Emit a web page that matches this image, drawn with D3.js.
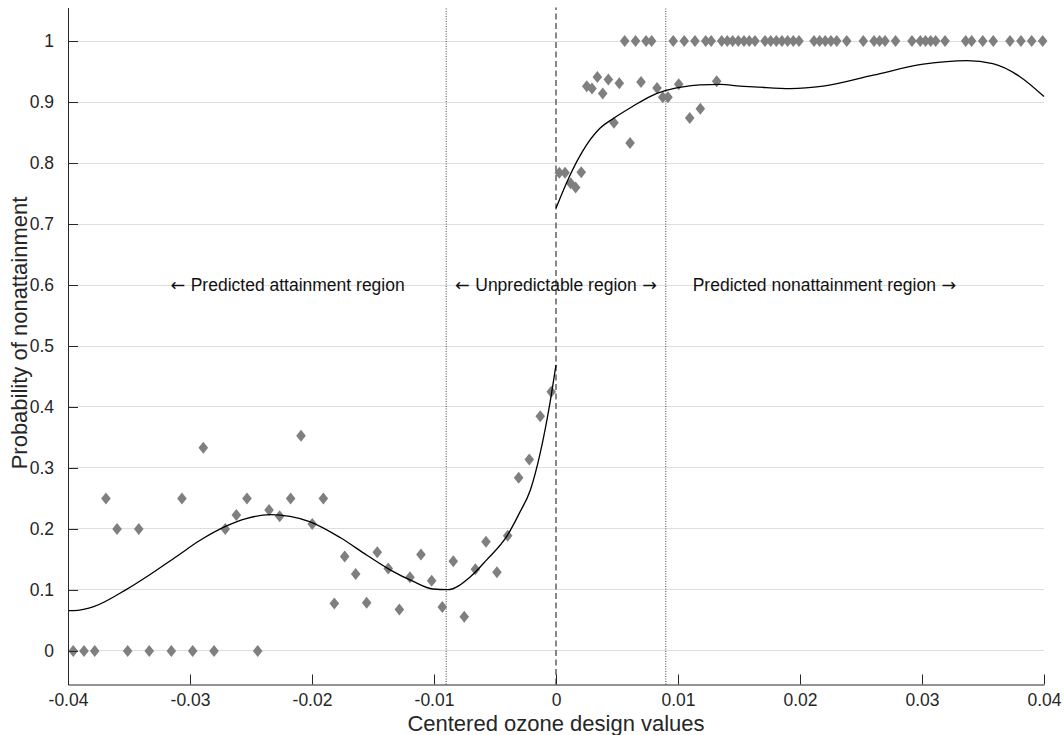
<!DOCTYPE html>
<html><head><meta charset="utf-8">
<script src="https://cdn.jsdelivr.net/npm/d3@7"></script>
<style>body{margin:0;background:#fff}svg{display:block}</style>
</head><body><svg id="c" width="1064" height="735"></svg>
<script>
// Scatter: left side (x < 0)
const leftX = [-0.03957,-0.03869,-0.03781,-0.03511,-0.03334,-0.03153,-0.02978,-0.02803,-0.02445,
  -0.03689,-0.03598,-0.03420,-0.03066,-0.02891,-0.02711,-0.02620,-0.02533,-0.02352,-0.02265,-0.02175,
  -0.02090,-0.01998,-0.01907,-0.01817,-0.01732,-0.01642,-0.01552,-0.01465,-0.01375,-0.01284,-0.01197,
  -0.01107,-0.01019,-0.00932,-0.00842,-0.00752,-0.00661,-0.00574,-0.00484,-0.00396,-0.00306,-0.00219,
  -0.00129,-0.00039];
const leftY = [0,0,0,0,0,0,0,0,0,
  0.25,0.2,0.2,0.25,0.333,0.2,0.223,0.25,0.231,0.221,0.25,
  0.353,0.208,0.25,0.078,0.155,0.126,0.079,0.162,0.135,0.068,0.121,
  0.158,0.115,0.072,0.147,0.056,0.134,0.179,0.129,0.189,0.284,0.314,
  0.385,0.425];
// Scatter: right side (x > 0), below 1
const rightX = [0.00027,0.00074,0.00120,0.00161,0.00207,0.00252,0.00295,0.00339,0.00383,0.00429,
  0.00475,0.00519,0.00607,0.00697,0.00828,0.00875,0.00918,0.01006,0.01096,0.01183,0.01317];
const rightY = [0.784,0.784,0.767,0.760,0.785,0.926,0.922,0.941,0.914,0.937,
  0.866,0.931,0.833,0.933,0.923,0.908,0.908,0.929,0.874,0.889,0.934];
// Scatter: right side, probability = 1
const oneX = [0.00563,0.00652,0.00738,0.00784,0.00961,0.01051,0.01139,0.01227,0.01272,0.01358,
  0.01404,0.01448,0.01494,0.01541,0.01584,0.01631,0.01713,0.01760,0.01806,0.01852,0.01899,0.01945,
  0.01992,0.02115,0.02161,0.02207,0.02254,0.02301,0.02383,0.02519,0.02607,0.02652,0.02697,0.02783,
  0.02918,0.02986,0.03029,0.03071,0.03112,0.03189,0.03358,0.03407,0.03498,0.03584,0.03721,0.03811,
  0.03899,0.03989];
// Fitted curves
const fitLeftX = [-0.04,-0.0392,-0.0379,-0.0352,-0.0333,-0.0311,-0.0292,-0.0270,-0.0254,-0.0234,
  -0.0218,-0.0202,-0.0177,-0.0155,-0.0136,-0.0117,-0.0101,-0.0089,-0.0070,-0.0057,-0.0040,-0.0030,
  -0.0021,-0.0013,-0.0005,0];
const fitLeftY = [0.066,0.0665,0.0725,0.101,0.125,0.155,0.181,0.205,0.217,0.2234,
  0.2208,0.212,0.186,0.157,0.133,0.114,0.1016,0.1005,0.122,0.149,0.189,0.226,
  0.264,0.324,0.406,0.469];
const fitRightX = [0,0.0011,0.0022,0.0036,0.0047,0.0063,0.0077,0.0090,0.0104,0.0118,0.0135,0.0151,
  0.0162,0.0192,0.0219,0.0260,0.0301,0.0337,0.0358,0.0380,0.04];
const fitRightY = [0.726,0.778,0.820,0.857,0.873,0.893,0.909,0.919,0.925,0.928,0.929,0.926,
  0.925,0.922,0.926,0.944,0.962,0.968,0.963,0.942,0.909];
const xTicks = [-0.04,-0.03,-0.02,-0.01,0,0.01,0.02,0.03,0.04];
const yTicks = [0,0.1,0.2,0.3,0.4,0.5,0.6,0.7,0.8,0.9,1];
const refDotted = [-0.009, 0.009];
const refDashed = [0];
const regionText = ["Predicted attainment region", "Unpredictable region", "Predicted nonattainment region"];
const regionLeftArrow = [true, true, false];
const regionRightArrow = [false, true, true];
const regionX = [-0.022, 0, 0.022];
const regionY = 0.6;
const xLabel = "Centered ozone design values";
const yLabel = "Probability of nonattainment";

const svg = d3.select("#c");
const font = "'Liberation Sans', Arial, Helvetica, sans-serif";
const arrowFont = "'DejaVu Sans', sans-serif";
const axisColor = "#262626";
const x = d3.scaleLinear().domain([-0.04, 0.04]).range([68, 1044]);
const y = d3.scaleLinear().domain([-0.055, 1.055]).range([684.5, 7.5]);

// grid
svg.append("g").selectAll("line").data(yTicks).join("line")
  .attr("x1", x(-0.04)).attr("x2", x(0.04))
  .attr("y1", d => y(d)).attr("y2", d => y(d))
  .attr("stroke", "#dedede").attr("stroke-width", 1).attr("shape-rendering", "crispEdges");

// reference lines
svg.append("g").selectAll("line").data(refDotted).join("line")
  .attr("x1", d => x(d)).attr("x2", d => x(d)).attr("y1", y.range()[0]).attr("y2", y.range()[1])
  .attr("stroke", "#444").attr("stroke-width", 1).attr("stroke-dasharray", "1,1.5");
svg.append("g").selectAll("line").data(refDashed).join("line")
  .attr("x1", d => x(d)).attr("x2", d => x(d)).attr("y1", y.range()[0]).attr("y2", y.range()[1])
  .attr("stroke", "#555").attr("stroke-width", 1.4).attr("stroke-dasharray", "6,3.5");

// points
const diamond = (w, h) => `M0,${-h}L${w},0L0,${h}L${-w},0Z`;
const pts = [];
leftX.forEach((v, i) => pts.push([v, leftY[i]]));
rightX.forEach((v, i) => pts.push([v, rightY[i]]));
oneX.forEach(v => pts.push([v, 1]));
svg.append("g").selectAll("path").data(pts).join("path")
  .attr("d", diamond(4.8, 6))
  .attr("transform", d => `translate(${x(d[0])},${y(d[1])})`)
  .attr("fill", "#7f7f7f");

// curves
const line = d3.line().x(d => x(d[0])).y(d => y(d[1])).curve(d3.curveMonotoneX);
svg.append("path").attr("d", line(fitLeftX.map((v, i) => [v, fitLeftY[i]])))
  .attr("fill", "none").attr("stroke", "#000").attr("stroke-width", 1.3);
svg.append("path").attr("d", line(fitRightX.map((v, i) => [v, fitRightY[i]])))
  .attr("fill", "none").attr("stroke", "#000").attr("stroke-width", 1.3);

// axes
const gx = svg.append("g").attr("transform", `translate(0,${y.range()[0]})`)
  .call(d3.axisBottom(x).tickValues(xTicks).tickFormat(d => String(d)).tickSizeInner(-10).tickSizeOuter(0).tickPadding(9));
const gy = svg.append("g").attr("transform", `translate(${x.range()[0]},0)`)
  .call(d3.axisLeft(y).tickValues(yTicks).tickFormat(d => String(d)).tickSizeInner(-10).tickSizeOuter(0).tickPadding(14));
[gx, gy].forEach(g => {
  g.selectAll("path,line").attr("stroke", axisColor);
  g.selectAll("text").attr("fill", axisColor).style("font-family", font).style("font-size", "17.5px");
  g.attr("font-family", null);
});

// region labels
const rl = svg.append("g").selectAll("text").data(regionText).join("text")
  .attr("x", (d, i) => x(regionX[i])).attr("y", y(regionY)).attr("dy", "0.35em")
  .attr("text-anchor", "middle").style("font-family", font).style("font-size", "17.5px")
  .attr("fill", "#111");
rl.each(function(d, i) {
  const t = d3.select(this);
  if (regionLeftArrow[i]) t.append("tspan").style("font-family", arrowFont).text("\u2190 ");
  t.append("tspan").text(d);
  if (regionRightArrow[i]) t.append("tspan").style("font-family", arrowFont).text(" \u2192");
});

// axis labels
svg.append("text").attr("x", x(0)).attr("y", 731).attr("text-anchor", "middle")
  .style("font-family", font).style("font-size", "22px").attr("fill", axisColor).text(xLabel);
svg.append("text").attr("transform", `translate(27,${(y.range()[0] + y.range()[1]) / 2 - 13}) rotate(-90)`)
  .attr("text-anchor", "middle")
  .style("font-family", font).style("font-size", "22px").attr("fill", axisColor).text(yLabel);
</script></body></html>
